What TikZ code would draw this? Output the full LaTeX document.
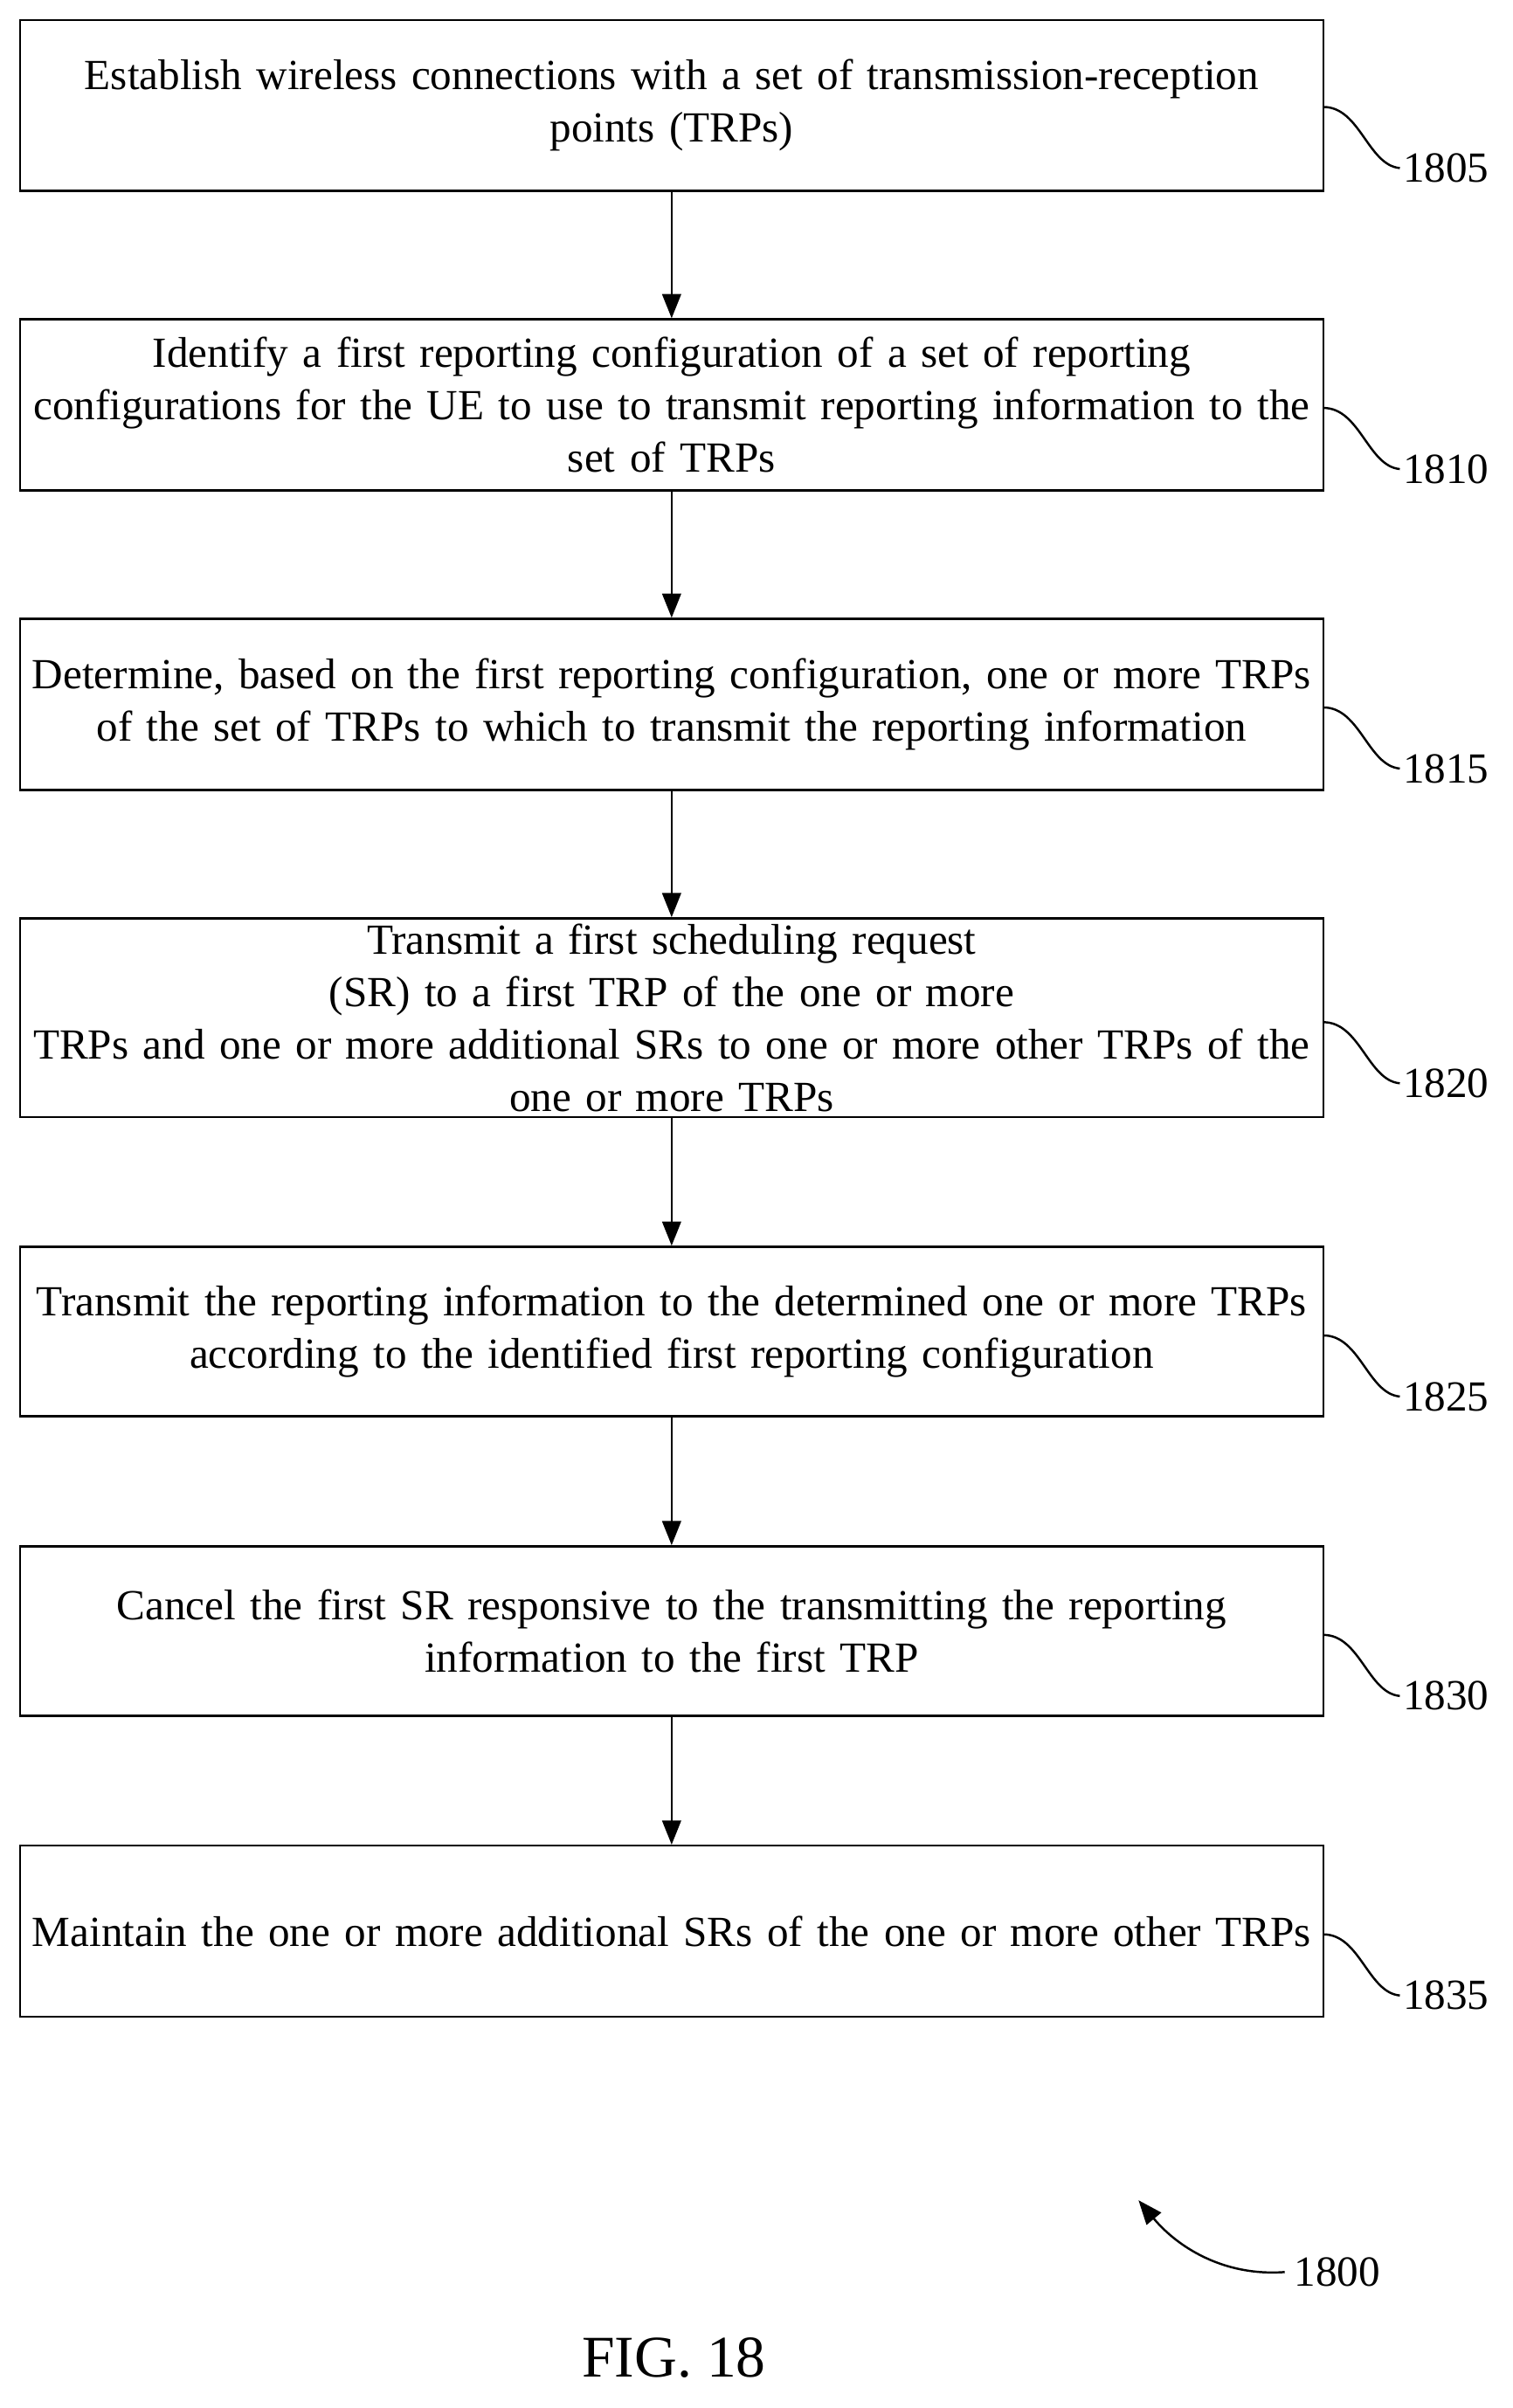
\documentclass[tikz,border=0pt]{standalone}
\usepackage{fontspec}
\setmainfont{Liberation Serif}
\usetikzlibrary{arrows.meta}
\begin{document}
\begin{tikzpicture}[x=0.02cm,y=-0.02cm,
    stepbox/.style={draw, thick, minimum width=853*0.02cm, text width=850*0.02cm, align=center, font=\fontsize{16}{19.5}\selectfont, inner sep=0pt},
    flow/.style={-{Triangle[length=9pt,width=7pt]}, thick},
    tag/.style={font=\fontsize{16}{19}\selectfont}]
\useasboundingbox (0,0) rectangle (990,1576);
% steps
\node[stepbox, minimum height=112*0.02cm] (s1) at (439.5,69) {Establish wireless connections with a set of transmission-reception\\points (TRPs)};
\node[stepbox, minimum height=112*0.02cm] (s2) at (439.5,265) {Identify a first reporting configuration of a set of reporting\\configurations for the UE to use to transmit reporting information to the\\set of TRPs};
\node[stepbox, minimum height=112*0.02cm] (s3) at (439.5,461) {Determine, based on the first reporting configuration, one or more TRPs\\of the set of TRPs to which to transmit the reporting information};
\node[stepbox, minimum height=130*0.02cm] (s4) at (439.5,666) {Transmit a first scheduling request (SR) to a first TRP of the one or more\\TRPs and one or more additional SRs to one or more other TRPs of the\\one or more TRPs};
\node[stepbox, minimum height=111*0.02cm] (s5) at (439.5,871.5) {Transmit the reporting information to the determined one or more TRPs\\according to the identified first reporting configuration};
\node[stepbox, minimum height=111*0.02cm] (s6) at (439.5,1067.5) {Cancel the first SR responsive to the transmitting the reporting\\information to the first TRP};
\node[stepbox, minimum height=112*0.02cm] (s7) at (439.5,1264) {Maintain the one or more additional SRs of the one or more other TRPs};
% arrows
\foreach \a/\b in {s1/s2,s2/s3,s3/s4,s4/s5,s5/s6,s6/s7}
  \draw[flow] (\a) -- (\b);
% reference numerals
\foreach \n/\t/\yy in {s1/1805/110,s2/1810/307,s3/1815/503,s4/1820/709,s5/1825/914,s6/1830/1110,s7/1835/1306}{
  \node[tag, anchor=west, inner sep=1pt] (t\t) at (916,\yy) {\t};
  \draw[thick] (866,\yy-40) .. controls (890,\yy-40) and (895,\yy-2) .. (t\t.west);
}
\node[tag] (t1800) at (875,1487) {1800};
\coordinate (p1800) at (745,1440);
\draw[thick, -{Triangle[length=9pt,width=7pt]}] (t1800.west) .. controls (800,1490) and (770,1470) .. (p1800);
\node[font=\fontsize{22}{26}\selectfont] (fig) at (441,1543) {FIG. 18};
\end{tikzpicture}
\end{document}
